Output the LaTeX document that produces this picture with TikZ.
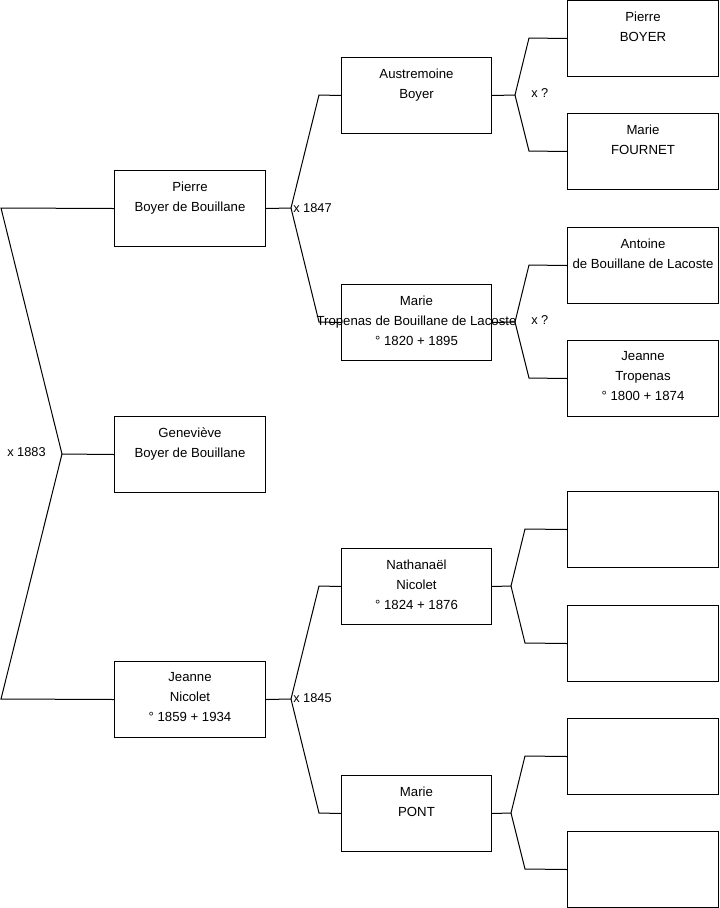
\documentclass[tikz,border=0pt]{standalone}
\usepackage{fontspec}
\setmainfont{Liberation Sans}
\begin{document}
\begin{tikzpicture}[x=0.75pt,y=-0.75pt,
  box/.style={draw=black,line width=0.75pt,rectangle,minimum width=113.25pt,minimum height=57pt,inner sep=0pt,anchor=north west},
  txt/.style={anchor=north,inner sep=0pt,align=center,font=\fontsize{9.9}{15}\selectfont},
  lbl/.style={inner sep=0pt,font=\fontsize{9.6}{11}\selectfont},
  conn/.style={line width=0.75pt,black}]
\useasboundingbox (0,0) rectangle (719,908);
% column 1
\node[box] (pierre) at (114,170) {};
\node[box] (gen) at (114,416) {};
\node[box] (jeanne) at (114,661) {};
% column 2
\node[box,minimum width=112.5pt] (austre) at (341,57) {};
\node[box,minimum width=112.5pt] (marieT) at (341,284) {};
\node[box,minimum width=112.5pt] (nath) at (341,548) {};
\node[box,minimum width=112.5pt] (pont) at (341,775) {};
% column 3
\node[box] (pb) at (567,0) {};
\node[box] (mf) at (567,113) {};
\node[box] (ant) at (567,227) {};
\node[box] (jt) at (567,340) {};
\node[box] (e1) at (567,491) {};
\node[box] (e2) at (567,605) {};
\node[box] (e3) at (567,718) {};
\node[box] (e4) at (567,831) {};
% texts
\node[txt] (tpierre) at ([yshift=-8.6pt]pierre.north) {Pierre\\Boyer de Bouillane};
\node[txt] (tgen) at ([yshift=-8.6pt]gen.north) {Geneviève\\Boyer de Bouillane};
\node[txt] (tjeanne) at ([yshift=-8.6pt]jeanne.north) {Jeanne\\Nicolet\\° 1859 + 1934};
\node[txt] (taustre) at ([yshift=-8.6pt]austre.north) {Austremoine\\Boyer};
\node[txt] (tmarieT) at ([yshift=-8.6pt]marieT.north) {Marie\\Tropenas de Bouillane de Lacoste\\° 1820 + 1895};
\node[txt] (tnath) at ([yshift=-8.6pt]nath.north) {Nathanaël\\Nicolet\\° 1824 + 1876};
\node[txt] (tpont) at ([yshift=-8.6pt]pont.north) {Marie\\PONT};
\node[txt] (tpb) at ([yshift=-8.6pt]pb.north) {Pierre\\BOYER};
\node[txt] (tmf) at ([yshift=-8.6pt]mf.north) {Marie\\FOURNET};
\node[txt] (tant) at ([yshift=-8.6pt]ant.north) {Antoine\\de Bouillane de Lacoste};
\node[txt] (tjt) at ([yshift=-8.6pt]jt.north) {Jeanne\\Tropenas\\° 1800 + 1874};
% connector coordinates
\coordinate (a1) at (1,208);
\coordinate (a2) at (62,454);
\coordinate (a3) at (1,699);
\coordinate (b0) at (291,208);
\coordinate (b1) at (319,95);
\coordinate (b2) at (319,322);
\coordinate (c0) at (291,699);
\coordinate (c1) at (319,586);
\coordinate (c2) at (319,813);
\coordinate (d0) at (515,95);
\coordinate (d1) at (529,38);
\coordinate (d2) at (529,151);
\coordinate (f0) at (515,322);
\coordinate (f1) at (529,265);
\coordinate (f2) at (529,378);
\coordinate (g0) at (511,586);
\coordinate (g1) at (525,529);
\coordinate (g2) at (525,643);
\coordinate (h0) at (511,813);
\coordinate (h1) at (525,756);
\coordinate (h2) at (525,869);
% connectors
\draw[conn] (pierre.west) -- (a1) -- (a2) -- (gen.west);
\draw[conn] (jeanne.west) -- (a3) -- (a2);
\draw[conn] (pierre.east) -- (b0) -- (b1) -- (austre.west);
\draw[conn] (b0) -- (b2) -- (marieT.west);
\draw[conn] (jeanne.east) -- (c0) -- (c1) -- (nath.west);
\draw[conn] (c0) -- (c2) -- (pont.west);
\draw[conn] (austre.east) -- (d0) -- (d1) -- (pb.west);
\draw[conn] (d0) -- (d2) -- (mf.west);
\draw[conn] (marieT.east) -- (f0) -- (f1) -- (ant.west);
\draw[conn] (f0) -- (f2) -- (jt.west);
\draw[conn] (nath.east) -- (g0) -- (g1) -- (e1.west);
\draw[conn] (g0) -- (g2) -- (e2.west);
\draw[conn] (pont.east) -- (h0) -- (h1) -- (e3.west);
\draw[conn] (h0) -- (h2) -- (e4.west);
% labels
\node[lbl,anchor=east] (l1883) at (46,452) {x 1883};
\node[lbl,anchor=west] (l1847) at (293,208) {x 1847};
\node[lbl,anchor=west] (l1845) at (293,698) {x 1845};
\node[lbl,anchor=west] (lq1) at (531,93) {x ?};
\node[lbl,anchor=west] (lq2) at (531,320) {x ?};
\end{tikzpicture}
\end{document}
